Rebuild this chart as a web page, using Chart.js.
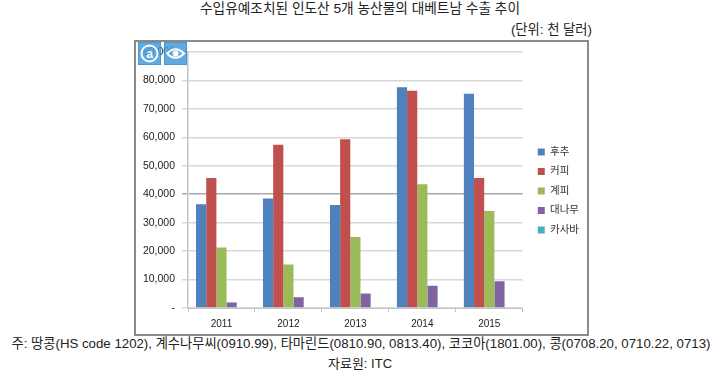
<!DOCTYPE html>
<html>
<head>
<meta charset="utf-8">
<script src="https://cdn.jsdelivr.net/npm/chart.js@4"></script>
<style>
body { margin: 0; background: #fff; width: 720px; height: 375px; overflow: hidden; position: relative;
       font-family: "Liberation Sans", "Noto Sans CJK KR", sans-serif; color: #222; }
.line { position: absolute; left: 0; width: 720px; text-align: center; font-size: 13px; line-height: 16px; white-space: nowrap; }
#box { position: absolute; left: 134px; top: 40px; width: 451px; height: 292px; border: 2px solid #8a8a8a; }
#box canvas { display: block; }
.icon { position: absolute; top: 42px; width: 23px; height: 23px; background: #4a9fdc; border: 1px solid #2f8ad0; box-sizing: border-box; opacity: 0.88; }
.icon svg { display: block; width: 21px; height: 21px; }
</style>
</head>
<body>
<div class="line" style="top:1px;font-size:13.7px">수입유예조치된 인도산 5개 농산물의 대베트남 수출 추이</div>
<div class="line" style="top:22px;left:auto;right:128px;width:auto;font-size:13.3px">(단위: 천 달러)</div>
<div id="box"><canvas id="chart" width="451" height="292"></canvas></div>
<div class="icon" style="left:138px"><svg viewBox="0 0 21 21"><circle cx="10.5" cy="10.5" r="8" fill="none" stroke="#fff" stroke-width="2"/><text x="10.5" y="14.5" text-anchor="middle" font-size="12" font-weight="bold" fill="#fff">a</text></svg></div>
<div class="icon" style="left:164px"><svg viewBox="0 0 21 21"><path d="M2 10.5 Q10.5 2 19 10.5 Q10.5 19 2 10.5 Z" fill="none" stroke="#fff" stroke-width="2"/><circle cx="10.5" cy="10.5" r="3" fill="#fff"/></svg></div>
<div class="line" style="top:336px;left:1px;font-size:13.25px">주: 땅콩(HS code 1202), 계수나무씨(0910.99), 타마린드(0810.90, 0813.40), 코코아(1801.00), 콩(0708.20, 0710.22, 0713)</div>
<div class="line" style="top:356px">자료원: ITC</div>
<script>
var years    = [ "2011", "2012", "2013", "2014", "2015" ];
var pepper   = [ 36500, 38500, 36200, 77600, 75300 ];
var coffee   = [ 45700, 57400, 59300, 76400, 45700 ];
var cinnamon = [ 21300, 15300, 25000, 43500, 34100 ];
var bamboo   = [ 1900, 3800, 5100, 7800, 9400 ];
var cassava  = [ 0, 0, 0, 0, 0 ];

function makeSeries( label, values, color )
{
    return { label: label, data: values, backgroundColor: color, categoryPercentage: 0.76, barPercentage: 1 };
}

// legend sits a bit away from the plot, the library has no option for that gap
var legendGap = {
    id: "legendGap",
    afterLayout: function ( chart ) {
        chart.legend.left += 6;
        chart.legend.top  -= 4;
    }
};

new Chart( document.getElementById( "chart" ).getContext( "2d" ), {
    type   : "bar",
    plugins: [ legendGap ],
    data   : {
        labels  : years,
        datasets: [
            makeSeries( "후추", pepper, "#4f81bd" ),
            makeSeries( "커피", coffee, "#c0504d" ),
            makeSeries( "계피", cinnamon, "#9bbb59" ),
            makeSeries( "대나무", bamboo, "#8064a2" ),
            makeSeries( "카사바", cassava, "#4bacc6" )
        ]
    },
    options: {
        responsive: false,
        animation : false,
        layout    : { padding: { top: 10, right: 4, bottom: 0, left: 0 } },
        font      : { family: "'Liberation Sans', 'Noto Sans CJK KR', sans-serif" },
        plugins   : {
            tooltip: { enabled: false },
            legend : {
                position: "right",
                labels  : {
                    boxWidth: 7, boxHeight: 7, padding: 9, color: "#333",
                    font: { size: 10.5, family: "'Liberation Sans', 'Noto Sans CJK KR', sans-serif" }
                }
            }
        },
        scales: {
            x: {
                afterFit: function ( scale ) { scale.height = 26; },
                border  : { color: "#c4c4c4", width: 1 },
                grid    : { drawOnChartArea: false, tickLength: 4, color: "#c4c4c4" },
                ticks   : { color: "#222", padding: 6, maxRotation: 0, font: { size: 10, family: "'Liberation Sans'" } }
            },
            y: {
                min     : 0,
                max     : 90000,
                afterFit: function ( scale ) {
                    scale.width = 52;
                    // tick padding otherwise pushes the top of the plot down
                    scale.paddingTop = 0;
                    scale.paddingBottom = 0;
                },
                border  : { color: "#c4c4c4", width: 1.5 },
                grid    : {
                    tickLength: 6,
                    lineWidth : 1.5,
                    // the 40,000 line came out darker and thinner in the original
                    color     : function ( ctx ) { return ctx.tick && ctx.tick.value === 40000 ? "#a8a8a8" : "#d8d8d8"; }
                },
                ticks   : {
                    stepSize: 10000,
                    color   : "#222",
                    padding : 7,
                    font    : { size: 10.5, family: "'Liberation Sans'" },
                    callback: function ( value ) { return value === 0 ? "-" : value.toLocaleString( "en-US" ); }
                }
            }
        }
    }
} );
</script>
</body>
</html>
